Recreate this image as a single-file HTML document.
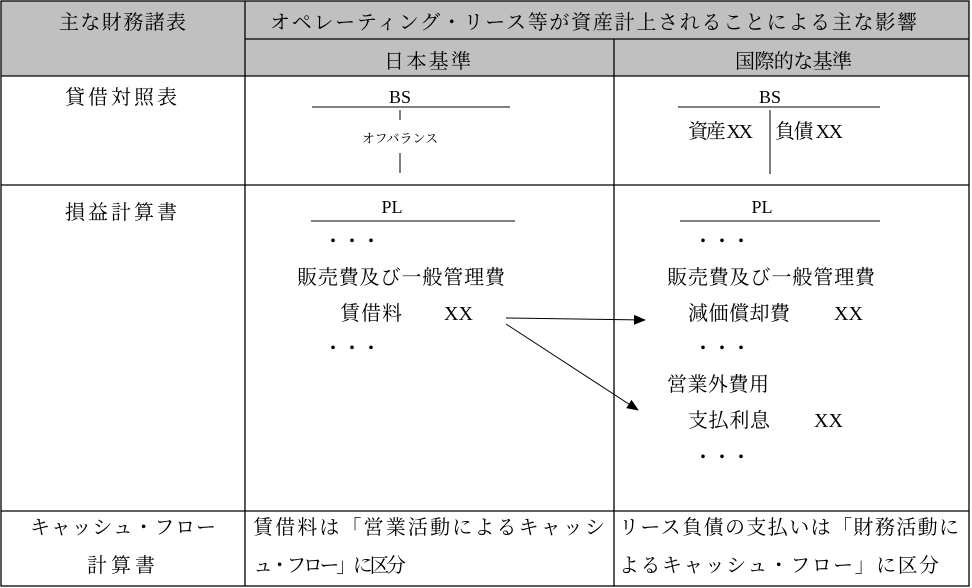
<!DOCTYPE html>
<html><head><meta charset="utf-8"><style>
html,body{margin:0;padding:0;background:#fff;}
svg{display:block;}
text{font-family:"Liberation Serif","Noto Serif CJK JP","Noto Serif CJK SC",serif;font-size:20px;fill:#000;}
</style></head><body>
<svg width="972" height="588" viewBox="0 0 972 588" xmlns="http://www.w3.org/2000/svg">
<defs><marker id="ah" markerWidth="12" markerHeight="10" refX="11" refY="5" orient="auto" markerUnits="userSpaceOnUse"><path d="M0,0 L12,5 L0,10 z" fill="#000"/></marker></defs>
<rect x="1" y="1" width="968" height="75" fill="#c0c0c0"/>
<g stroke="#000" stroke-width="1.3" fill="none">
<rect x="1" y="1" width="968" height="585"/>
<line x1="245" y1="39" x2="969" y2="39"/>
<line x1="1" y1="76" x2="969" y2="76"/>
<line x1="1" y1="185" x2="969" y2="185"/>
<line x1="1" y1="511" x2="969" y2="511"/>
<line x1="245" y1="1" x2="245" y2="586"/>
<line x1="614" y1="39" x2="614" y2="586"/>
</g>
<g stroke="#000" stroke-width="1">
<line x1="312" y1="107" x2="510" y2="107"/>
<line x1="400" y1="110" x2="400" y2="120"/>
<line x1="400" y1="153" x2="400" y2="173"/>
<line x1="678" y1="107" x2="880" y2="107"/>
<line x1="770" y1="110" x2="770" y2="174"/>
<line x1="311" y1="221" x2="515" y2="221"/>
<line x1="680" y1="221" x2="880" y2="221"/>
<line x1="506" y1="318" x2="645" y2="320" marker-end="url(#ah)"/>
<line x1="506" y1="324" x2="638" y2="410" marker-end="url(#ah)"/>
</g>
<text x="59" y="29" textLength="127">主な財務諸表</text>
<text x="270" y="29" textLength="647">オペレーティング・リース等が資産計上されることによる主な影響</text>
<text x="384" y="68" textLength="87">日本基準</text>
<text x="735" y="68" textLength="117">国際的な基準</text>
<text x="65" y="104" textLength="112">貸借対照表</text>
<text x="400" y="103" text-anchor="middle" style="font-size:18px">BS</text>
<text x="400" y="143" text-anchor="middle" style="font-size:13px">オフバランス</text>
<text x="770" y="103" text-anchor="middle" style="font-size:18px">BS</text>
<text x="688" y="138" textLength="65">資産 XX</text>
<text x="775" y="138" textLength="68">負債 XX</text>
<text x="65" y="219" textLength="112">損益計算書</text>
<text x="392" y="213" text-anchor="middle" style="font-size:18px">PL</text>
<text x="762" y="213" text-anchor="middle" style="font-size:18px">PL</text>
<text x="323" y="248" textLength="58">・・・</text>
<text x="297" y="284" textLength="208">販売費及び一般管理費</text>
<text x="340" y="320" textLength="62">賃借料</text>
<text x="444" y="320">XX</text>
<text x="323" y="355" textLength="58">・・・</text>
<text x="693" y="248" textLength="58">・・・</text>
<text x="667" y="284" textLength="208">販売費及び一般管理費</text>
<text x="688" y="320" textLength="102">減価償却費</text>
<text x="834" y="320">XX</text>
<text x="693" y="355" textLength="58">・・・</text>
<text x="667" y="391" textLength="102">営業外費用</text>
<text x="688" y="427" textLength="82">支払利息</text>
<text x="814" y="427">XX</text>
<text x="693" y="464" textLength="58">・・・</text>
<text x="30" y="534" textLength="186">キャッシュ・フロー</text>
<text x="87" y="572" textLength="68">計算書</text>
<text x="253" y="534" textLength="352">賃借料は「営業活動によるキャッシ</text>
<text x="253" y="572" textLength="153">ュ・フロー」に区分</text>
<text x="619" y="534" textLength="340">リース負債の支払いは「財務活動に</text>
<text x="619" y="572" textLength="320">よるキャッシュ・フロー」に区分</text>
</svg>
</body></html>
